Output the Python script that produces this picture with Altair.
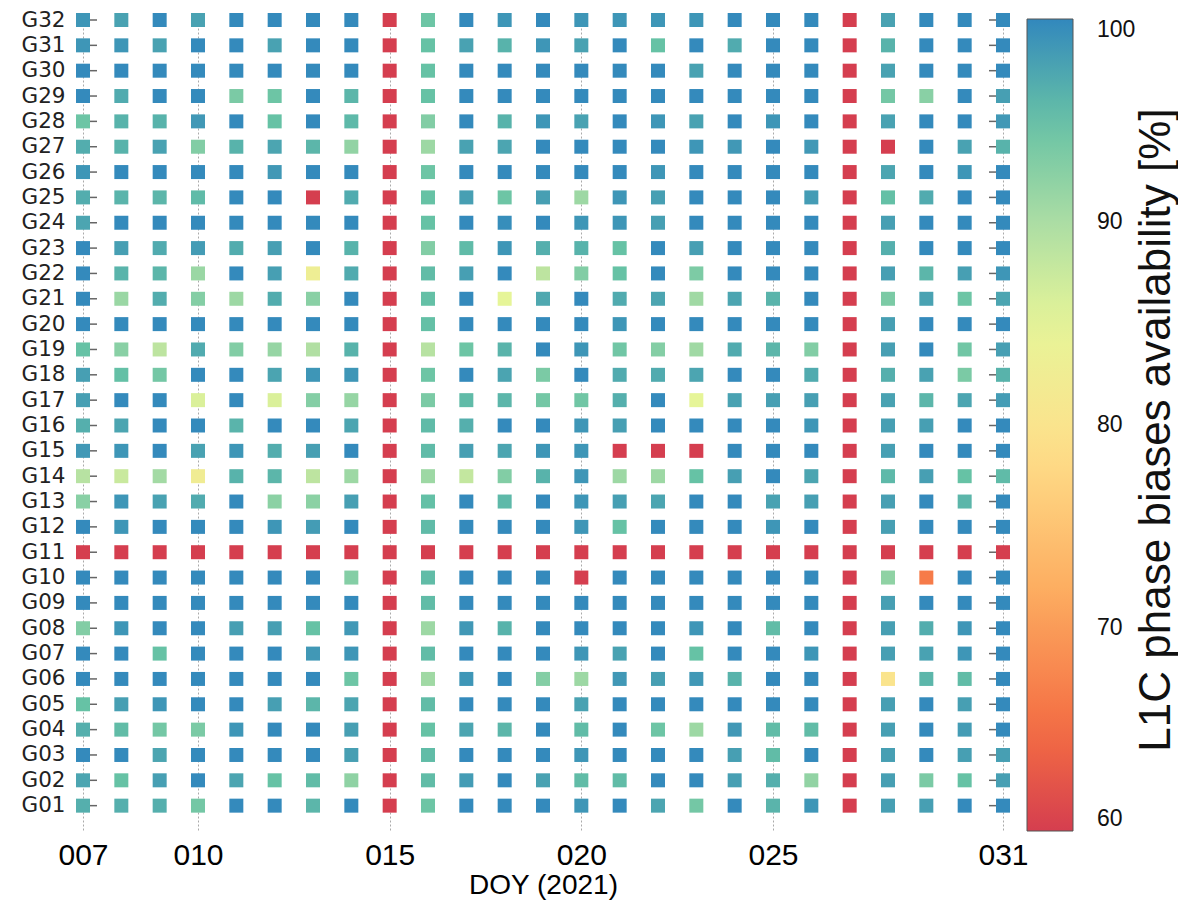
import altair as alt
import pandas as pd

# ---- data -------------------------------------------------------------
doys = [7, 8, 9, 10, 11, 12, 13, 14, 15, 16, 17, 18, 19, 20, 21, 22, 23, 24, 25, 26, 27, 28, 29, 30, 31]
x_tick_values = [7, 10, 15, 20, 25, 31]
sat_names = ["G01", "G02", "G03", "G04", "G05", "G06", "G07", "G08", "G09", "G10",
             "G11", "G12", "G13", "G14", "G15", "G16", "G17", "G18", "G19", "G20",
             "G21", "G22", "G23", "G24", "G25", "G26", "G27", "G28", "G29", "G30",
             "G31", "G32"]
sat_numbers = [1, 2, 3, 4, 5, 6, 7, 8, 9, 10, 11, 12, 13, 14, 15, 16,
               17, 18, 19, 20, 21, 22, 23, 24, 25, 26, 27, 28, 29, 30, 31, 32]

G01 = [96.6, 96.6, 96.6, 94, 99.8, 99.8, 96, 99.8, 0, 94.5, 99.8, 99.8, 99.8, 98.8, 99.8, 97.5, 94, 99.8, 96.2, 98.8, 0, 98, 98, 99.8, 99.8]
G02 = [97.5, 95, 98, 99.8, 97.5, 95, 95.5, 92, 0, 95.5, 98.3, 99.8, 97.8, 95.5, 95.5, 99.8, 99.8, 98, 96.6, 91.8, 0, 98, 93.5, 95, 98]
G03 = [99.8, 99.8, 97.5, 99.8, 99.8, 99.8, 99.8, 98, 0, 95.5, 99.8, 99.8, 99.8, 98.8, 99.8, 99.8, 99.8, 98, 95.5, 99.8, 0, 98, 99.8, 98, 98]
G04 = [96.6, 95.5, 94, 93.5, 98.8, 99.8, 99.8, 98, 0, 95, 97.5, 96, 99.8, 95.5, 99.8, 94.5, 91, 98.6, 95.5, 95.5, 0, 98, 99.8, 98.3, 99.8]
G05 = [95, 98, 98.8, 99.8, 99.8, 98, 96, 97.5, 0, 95.5, 99.8, 99.8, 99.8, 97.8, 99.8, 99.8, 99.8, 99.8, 99.8, 99.8, 0, 98, 99.8, 98, 99.8]
G06 = [99.8, 99.8, 99.8, 99.8, 99.8, 99.8, 99.8, 94.5, 0, 90.8, 98.8, 99.8, 92.8, 91, 98.6, 98, 98.6, 96.3, 99.8, 99.8, 0, 80, 96, 95.5, 99.8]
G07 = [99.8, 99.8, 95, 99.8, 99.8, 99.8, 98.6, 98.8, 0, 95.5, 99.8, 99.8, 99.8, 98.8, 97.8, 99.8, 95, 99.8, 99.8, 98.8, 0, 98, 97.8, 98.8, 99.8]
G08 = [93, 98.8, 99.8, 99.8, 98, 98, 95, 98.6, 0, 91, 98.6, 96.3, 99.8, 99.8, 99.8, 99.8, 98.8, 99.8, 95.5, 99.8, 0, 98, 96.8, 98.8, 99.8]
G09 = [99.8, 99.8, 99.8, 99.8, 99.8, 99.8, 99.8, 99.8, 0, 95.5, 99.8, 99.8, 99.8, 99.8, 99.8, 99.8, 99.8, 99.8, 99.8, 99.8, 0, 98, 99.8, 99.8, 99.8]
G10 = [99.8, 99.8, 99.8, 99.8, 99.8, 99.8, 99.8, 92.8, 0, 95.5, 99.8, 99.8, 99.8, 0, 99.8, 99.8, 99.8, 99.8, 99.8, 99.8, 0, 92, 66.5, 99.8, 99.8]
G11 = [0, 0, 0, 0, 0, 0, 0, 0, 0, 0, 0, 0, 0, 0, 0, 0, 0, 0, 0, 0, 0, 0, 0, 0, 0]
G12 = [99.8, 98.8, 99.8, 99.8, 99.8, 98.8, 98.3, 99.8, 0, 95.6, 99.8, 99.8, 99.8, 98.8, 95, 99.8, 99.8, 99.8, 98.8, 99.8, 0, 98, 99.8, 99.8, 99.8]
G13 = [92.5, 98.8, 97.8, 97, 99.8, 92.3, 92.3, 98, 0, 95.2, 99.8, 95.8, 99.8, 98.8, 98, 97.5, 99.8, 99.8, 97.8, 98, 0, 98, 99.8, 96, 99.8]
G14 = [89, 87.5, 90.6, 82.5, 96.3, 96, 88.5, 91, 0, 91, 88, 93, 96.3, 98.8, 91, 91, 95, 98, 99.8, 97.5, 0, 95.8, 98, 95, 95.6]
G15 = [98.6, 98.8, 99.8, 97.8, 98.8, 96.8, 98, 99.8, 0, 95.6, 98, 97.5, 98.8, 98.8, 0, 0, 0, 99.8, 99.8, 99.8, 0, 98, 99.8, 99.8, 99.8]
G16 = [96.6, 97.5, 99.8, 99.8, 96.2, 99.8, 99.8, 97.5, 0, 95.6, 96.6, 99.8, 99.8, 98.8, 98, 99.8, 99.8, 99.8, 99.8, 98.8, 0, 98, 98, 99.8, 99.8]
G17 = [98, 99.8, 99.8, 86, 99.8, 86, 92.8, 91.5, 0, 93.5, 95.6, 96, 94, 94.2, 96.6, 99.8, 85, 97.8, 98, 98, 0, 97.8, 96, 97.5, 98.3]
G18 = [98, 95.2, 94, 99.8, 99.8, 97.6, 98.8, 98.8, 0, 94.5, 99.8, 97.6, 93.5, 99.8, 97, 97, 97.5, 99.8, 99.8, 97, 0, 96.6, 97.8, 93.5, 96.3]
G19 = [95, 92.5, 88.5, 97, 93, 91.5, 89.5, 96.3, 0, 89, 94.5, 96.2, 99.8, 98.8, 94.2, 92.8, 90.8, 97, 96, 93, 0, 98, 99.8, 94.2, 98]
G20 = [99.8, 99.8, 99.8, 99.8, 99.8, 99.8, 99.8, 99.8, 0, 95.2, 99.8, 99.8, 99.8, 99.8, 98.8, 99.8, 99.8, 99.8, 99.8, 99.8, 0, 98, 99.8, 99.8, 99.8]
G21 = [99.8, 91.2, 96.8, 92.8, 91, 96.9, 92.5, 99.8, 0, 95.2, 99.8, 85, 97.2, 99.8, 97, 97.5, 90.8, 97.5, 96.2, 99.8, 0, 93.5, 97.8, 94.5, 97.5]
G22 = [99.8, 96.2, 96, 91.2, 99.8, 98, 83, 97, 0, 95.5, 98, 99.8, 88.5, 93, 95, 99.8, 93.3, 99.8, 99.8, 99.8, 0, 98, 96, 98, 98.8]
G23 = [99.8, 98, 97, 98.3, 96.9, 98, 99.8, 96.3, 0, 93, 95.6, 98.8, 96.6, 96.3, 95, 99.8, 98, 99.8, 99.8, 99.8, 0, 96.6, 99.8, 99.8, 99.8]
G24 = [97.5, 99.8, 99.8, 99.8, 99.8, 99.8, 99.8, 99.8, 0, 95, 99.8, 99.5, 99.8, 98.8, 98.8, 98, 99.8, 99.8, 99.8, 99.8, 0, 98, 99.8, 99.8, 99.8]
G25 = [96.8, 96.2, 96, 95.6, 99.8, 99.8, 0, 97, 0, 95, 98, 94.5, 98, 91, 98.8, 98, 99.8, 99.8, 99.8, 98.3, 0, 95.2, 97, 99.8, 99.8]
G26 = [98.8, 99.8, 99.8, 99.8, 99.8, 98.6, 99.8, 99.8, 0, 94.5, 99.8, 99.8, 99.8, 99.8, 99.8, 98.8, 99.8, 99.8, 99.8, 99.8, 0, 97.5, 99.8, 98.8, 99.8]
G27 = [96.8, 96.3, 97.8, 93, 96.3, 97.5, 96, 91.8, 0, 91, 97.8, 97.5, 99.8, 99.8, 99.8, 99.8, 98.8, 98.6, 99.8, 98.6, 0, 0, 99.8, 97.8, 96.3]
G28 = [94.5, 96.3, 96.3, 98.6, 99.8, 95, 99.8, 95.8, 0, 93, 99.8, 96.3, 98.8, 97.8, 99.8, 98.8, 97.8, 99.8, 98.8, 99.8, 0, 97.8, 99.8, 99.8, 98.6]
G29 = [99.8, 97, 99.8, 99.8, 93.5, 94.5, 99.8, 96, 0, 95, 99.8, 99.8, 99.8, 99.8, 99.8, 99.8, 99.8, 99.8, 99.8, 99.8, 0, 94, 92.5, 99.8, 98]
G30 = [99.8, 99.8, 99.8, 99.8, 99.8, 99.8, 99.8, 99.8, 0, 95, 99.8, 99.8, 99.8, 99.8, 99.8, 99.8, 97.8, 99.8, 99.8, 99.8, 0, 97.8, 99.8, 99.8, 99.8]
G31 = [98.8, 98.8, 97.8, 99.8, 99.8, 97.8, 99.8, 99.8, 0, 95, 97.8, 96.3, 98.8, 97.8, 99.8, 95, 99.8, 97, 99.8, 99.8, 0, 96.3, 99.8, 99.8, 99.8]
G32 = [98.8, 97.8, 99.8, 97.8, 99.8, 99.8, 99.8, 99.8, 0, 94.5, 99.8, 98.8, 99.8, 98.8, 98.8, 98.8, 98.8, 99.8, 99.8, 99.8, 0, 97.8, 99.8, 99.8, 99.8]

series = [G01, G02, G03, G04, G05, G06, G07, G08, G09, G10, G11, G12, G13, G14, G15, G16,
          G17, G18, G19, G20, G21, G22, G23, G24, G25, G26, G27, G28, G29, G30, G31, G32]

color_stops = [60, 65, 72, 79, 85, 90, 95, 100]
color_range = ["#d53e4f", "#f46d43", "#fdae61", "#fee08b", "#e6f598", "#abdda4", "#66c2a5", "#3288bd"]
legend_values = [60, 70, 80, 90, 100]
colorbar_minor_ticks = [70, 80, 90]
colorbar_title = ["L1C phase biases availability [%]"]

rows = []
for name, num, vals in zip(sat_names, sat_numbers, series):
    for d, v in zip(doys, vals):
        rows.append({"sat": name, "sat_num": num, "doy": d, "avail": v})
df = pd.DataFrame(rows)
ticks_df = pd.DataFrame({"sat_num": sat_numbers})
cb_ticks_df = pd.DataFrame({"v": colorbar_minor_ticks})
title_df = pd.DataFrame({"t": colorbar_title})

# ---- chart ------------------------------------------------------------
W, H = 920, 811
CB_X = W + 24          # colorbar left edge (relative to plot)
CB_W = 46              # colorbar thickness

y_scale = alt.Scale(domain=[0, 32], nice=False, zero=False)

y_enc = alt.Y(
    "sat_num:Q",
    scale=y_scale,
    axis=alt.Axis(
        values=sat_numbers,
        labelExpr="'G' + (datum.value < 10 ? '0' : '') + datum.value",
        ticks=False, domain=False, grid=False,
        labelFont="DejaVu Sans", labelFontSize=21.5, labelColor="#222",
        labelPadding=18, labelOverlap=False, labelBound=False,
        title=None,
    ),
)
y_enc_plain = alt.Y("sat_num:Q", scale=y_scale, axis=None)

x_enc = alt.X(
    "doy:Q",
    scale=alt.Scale(domain=[7, 31], nice=False, zero=False),
    axis=alt.Axis(
        values=x_tick_values, format="03d",
        ticks=False, tickSize=0, domain=False,
        grid=True, gridDash=[2, 2], gridColor="#aaaaaa", gridWidth=1,
        labelFont="Liberation Sans", labelFontSize=30, labelColor="#000",
        labelPadding=9, labelFlush=False, labelOverlap=False,
        title="DOY (2021)", titleFont="Liberation Sans", titleFontSize=28,
        titleFontWeight="normal", titleColor="#000", titlePadding=1,
    ),
)

ticks_left = alt.Chart(ticks_df).mark_rule(color="#666", strokeWidth=1.5).encode(
    y=y_enc_plain, x=alt.value(0), x2=alt.value(14)
)
ticks_right = alt.Chart(ticks_df).mark_rule(color="#666", strokeWidth=1.5).encode(
    y=y_enc_plain, x=alt.value(W - 14), x2=alt.value(W)
)

squares = alt.Chart(df).mark_square(size=196, opacity=1, filled=True).encode(
    x=x_enc,
    y=y_enc,
    color=alt.Color(
        "avail:Q",
        scale=alt.Scale(domain=color_stops, range=color_range, clamp=True, interpolate="rgb"),
        legend=alt.Legend(
            orient="none", legendX=CB_X, legendY=-1, direction="vertical",
            gradientLength=812, gradientThickness=CB_W,
            gradientStrokeColor="#555", gradientStrokeWidth=1,
            values=legend_values,
            labelFont="Liberation Sans", labelFontSize=23, labelColor="#111",
            labelOffset=24, labelBaseline="middle",
            title=None,
        ),
    ),
)

cb_scale = alt.Scale(domain=[60, 100], range=[H + 0.5, -0.5])
cb_ticks_l = alt.Chart(cb_ticks_df).mark_rule(color="#555", strokeWidth=1).encode(
    y=alt.Y("v:Q", scale=cb_scale, axis=None),
    x=alt.value(CB_X), x2=alt.value(CB_X + 6),
)
cb_ticks_r = alt.Chart(cb_ticks_df).mark_rule(color="#555", strokeWidth=1).encode(
    y=alt.Y("v:Q", scale=cb_scale, axis=None),
    x=alt.value(CB_X + CB_W - 6), x2=alt.value(CB_X + CB_W),
)

cb_title = alt.Chart(title_df).mark_text(
    angle=270, align="center", baseline="alphabetic",
    font="Liberation Sans", fontSize=44, color="#111",
).encode(
    text="t:N", x=alt.value(1087), y=alt.value(410),
)

chart = alt.layer(
    ticks_left, ticks_right, squares, cb_ticks_l, cb_ticks_r, cb_title
).resolve_scale(y="independent").properties(
    width=W, height=H,
    autosize="none",
    padding={"left": 75, "top": 12, "right": 175, "bottom": 76},
).configure_view(strokeWidth=0)

chart.save("out.html", embed_options={"renderer": "svg", "actions": False})
